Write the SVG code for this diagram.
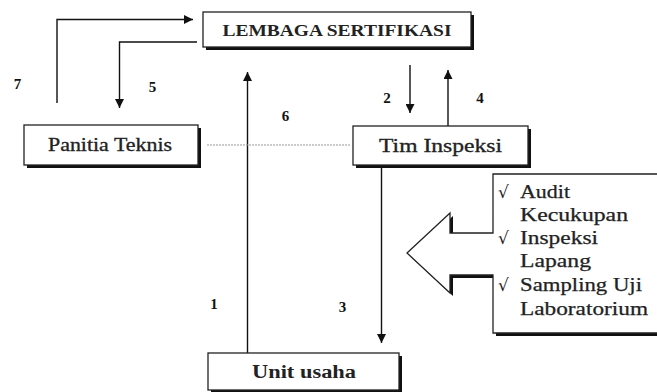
<svg xmlns="http://www.w3.org/2000/svg" width="657" height="392" viewBox="0 0 657 392">
  <defs>
    <marker id="ah" viewBox="0 0 10 10" refX="10" refY="5" markerWidth="9" markerHeight="9" markerUnits="userSpaceOnUse" orient="auto">
      <path d="M0,0 L10,5 L0,10 Z" fill="#111"/>
    </marker>
  </defs>
  <style>
    .shadow { fill: #111; }
    .box { fill: #fff; stroke: #222; stroke-width: 1.3; }
    .lbl { font-family: "Liberation Serif", "DejaVu Serif", serif; fill: #222; text-anchor: middle; }
    .num { font-family: "Liberation Serif", "DejaVu Serif", serif; font-weight: bold; font-size: 15px; fill: #111; text-anchor: middle; }
    .conn { fill: none; stroke: #111; stroke-width: 1.4; }
    .list { font-family: "Liberation Serif", "DejaVu Serif", serif; font-size: 18px; fill: #222; stroke: #222; stroke-width: 0.25; }
    .tick { font-family: "DejaVu Sans", sans-serif; font-size: 17px; fill: #222; }
  </style>
  <rect width="657" height="392" fill="#fff"/>

  <g id="connectors">
    <path class="conn" d="M57,103 V19.5 H193" marker-end="url(#ah)"/>
    <path class="conn" d="M197,42 H119.5 V108" marker-end="url(#ah)"/>
    <path class="conn" d="M410,65 V113" marker-end="url(#ah)"/>
    <path class="conn" d="M448,126 V70" marker-end="url(#ah)"/>
    <path class="conn" d="M247.5,353 V72" marker-end="url(#ah)"/>
    <path class="conn" d="M381.5,166 V343" marker-end="url(#ah)"/>
    <path d="M207,145 H350" fill="none" stroke="#999" stroke-width="1" stroke-dasharray="2,1"/>
  </g>

  <g id="labels">
    <text class="num" x="17.5" y="89">7</text>
    <text class="num" x="152.5" y="92">5</text>
    <text class="num" x="387" y="103">2</text>
    <text class="num" x="480" y="103">4</text>
    <text class="num" x="285.5" y="121">6</text>
    <text class="num" x="214" y="309">1</text>
    <text class="num" x="342.5" y="312">3</text>
  </g>

  <g id="lembaga">
    <rect class="shadow" x="206" y="15" width="268" height="35"/>
    <rect class="box" x="203" y="12" width="268" height="35"/>
    <text class="lbl" x="337" y="36" font-size="17" font-weight="bold" textLength="229" lengthAdjust="spacingAndGlyphs">LEMBAGA SERTIFIKASI</text>
  </g>

  <g id="panitia">
    <rect class="shadow" x="27" y="128" width="174" height="40"/>
    <rect class="box" x="24" y="125" width="174" height="40"/>
    <text class="lbl" x="110" y="151" font-size="18" stroke="#222" stroke-width="0.3" textLength="124" lengthAdjust="spacingAndGlyphs">Panitia Teknis</text>
  </g>

  <g id="tim">
    <rect class="shadow" x="356" y="129" width="175" height="39"/>
    <rect class="box" x="353" y="126" width="175" height="39"/>
    <text class="lbl" x="440.5" y="152" font-size="18" stroke="#222" stroke-width="0.3" textLength="123" lengthAdjust="spacingAndGlyphs">Tim Inspeksi</text>
  </g>

  <g id="unit">
    <rect class="shadow" x="211" y="356" width="191" height="37"/>
    <rect class="box" x="208" y="353" width="191" height="37"/>
    <text class="lbl" x="304" y="378" font-size="18" font-weight="bold" textLength="104" lengthAdjust="spacingAndGlyphs">Unit usaha</text>
  </g>

  <g id="kegiatan">
    <path class="shadow" d="M410,256 L453,216 V236 H496 V177 H663 V336 H496 V278 H453 V296 Z"/>
    <path class="box" d="M407,253 L450,213 V233 H493 V174 H660 V333 H493 V275 H450 V293 Z"/>
    <text class="tick" x="498" y="198">√</text>
    <text class="list" x="520" y="198" textLength="50" lengthAdjust="spacingAndGlyphs">Audit</text>
    <text class="list" x="520" y="221" textLength="108" lengthAdjust="spacingAndGlyphs">Kecukupan</text>
    <text class="tick" x="498" y="244">√</text>
    <text class="list" x="520" y="244" textLength="78" lengthAdjust="spacingAndGlyphs">Inspeksi</text>
    <text class="list" x="520" y="267" textLength="71" lengthAdjust="spacingAndGlyphs">Lapang</text>
    <text class="tick" x="498" y="291">√</text>
    <text class="list" x="520" y="291" textLength="122" lengthAdjust="spacingAndGlyphs">Sampling Uji</text>
    <text class="list" x="520" y="315" textLength="128" lengthAdjust="spacingAndGlyphs">Laboratorium</text>
  </g>
</svg>
